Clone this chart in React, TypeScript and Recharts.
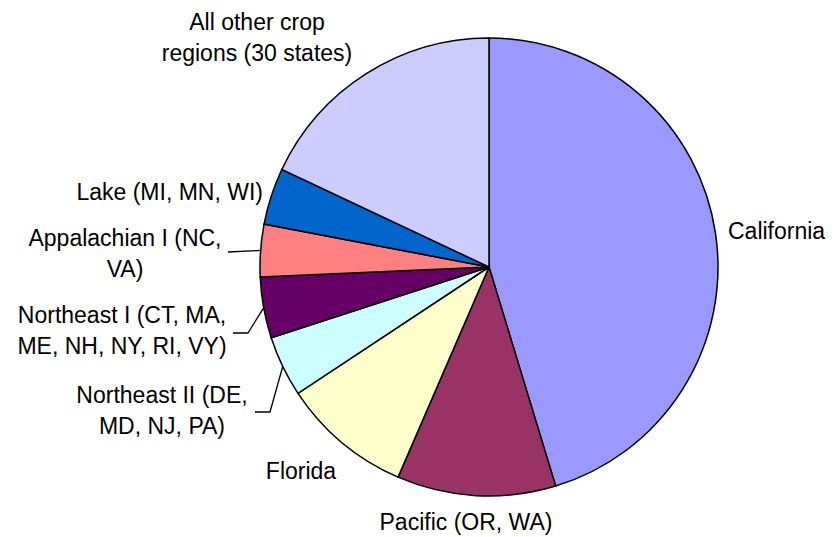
import React from "react";
import { PieChart, Pie, Cell } from "recharts";

const regions = [
  "California",
  "Pacific (OR, WA)",
  "Florida",
  "Northeast II (DE, MD, NJ, PA)",
  "Northeast I (CT, MA, ME, NH, NY, RI, VY)",
  "Appalachian I (NC, VA)",
  "Lake (MI, MN, WI)",
  "All other crop regions (30 states)",
];
const shares = [45.3, 11.2, 9.2, 4.3, 4.3, 3.7, 4.0, 18.0];
const labelLines = [
  ["California"],
  ["Pacific (OR, WA)"],
  ["Florida"],
  ["Northeast II (DE,", "MD, NJ, PA)"],
  ["Northeast I (CT, MA,", "ME, NH, NY, RI, VY)"],
  ["Appalachian I (NC,", "VA)"],
  ["Lake (MI, MN, WI)"],
  ["All other crop", "regions (30 states)"],
];
const colors = ["#9999FF", "#993366", "#FFFFCC", "#CCFFFF", "#660066", "#FF8080", "#0066CC", "#CCCCFF"];

const data = regions.map((name, i) => ({ name, value: shares[i] }));

// label layout relative to pie centre
const LAYOUT: { dx: number; dy: number; anchor: "start" | "middle" | "end"; leader?: number[][] }[] = [
  { dx: 239, dy: -28, anchor: "start" },
  { dx: -23, dy: 263, anchor: "middle" },
  { dx: -188, dy: 212, anchor: "middle" },
  { dx: -327, dy: 136, anchor: "middle", leader: [[-234, 145], [-219, 145]] },
  { dx: -367, dy: 56, anchor: "middle", leader: [[-256, 66], [-241, 66]] },
  { dx: -364, dy: -21, anchor: "middle", leader: [[-261, -15]] },
  { dx: -226, dy: -67, anchor: "end" },
  { dx: -232, dy: -237.5, anchor: "middle" },
];

const RAD = Math.PI / 180;
const LINE_H = 31;

const renderLabel = (props: any) => {
  const { cx, cy, midAngle, outerRadius, index } = props;
  const L = LAYOUT[index];
  const lines = labelLines[index];
  let leader = null;
  if (L.leader) {
    const ex = cx + outerRadius * Math.cos(-midAngle * RAD);
    const ey = cy + outerRadius * Math.sin(-midAngle * RAD);
    const pts = L.leader.map(([x, y]) => `${cx + x},${cy + y}`).concat([`${ex},${ey}`]);
    leader = <polyline points={pts.join(" ")} fill="none" stroke="#000" strokeWidth={1.3} />;
  }
  return (
    <g key={`lbl-${index}`}>
      {leader}
      <text
        x={cx + L.dx}
        y={cy + L.dy}
        textAnchor={L.anchor}
        fill="#000"
        fontSize={23}
        fontFamily="'Liberation Sans', Arial, sans-serif"
      >
        {lines.map((t, k) => (
          <tspan key={k} x={cx + L.dx} dy={k === 0 ? 0 : LINE_H}>
            {t}
          </tspan>
        ))}
      </text>
    </g>
  );
};

export default function App() {
  return (
    <div style={{ position: "absolute", left: 0, top: 0, width: 834, height: 537, background: "#fff" }}>
      <PieChart width={834} height={537} margin={{ top: 0, right: 0, bottom: 0, left: 0 }}>
        <Pie
          data={data}
          dataKey="value"
          nameKey="name"
          cx={489}
          cy={267}
          outerRadius={229}
          startAngle={90}
          endAngle={-270}
          stroke="#000"
          strokeWidth={1.5}
          label={renderLabel}
          labelLine={false}
          isAnimationActive={false}
        >
          {data.map((d, i) => (
            <Cell key={d.name} fill={colors[i]} />
          ))}
        </Pie>
      </PieChart>
    </div>
  );
}
